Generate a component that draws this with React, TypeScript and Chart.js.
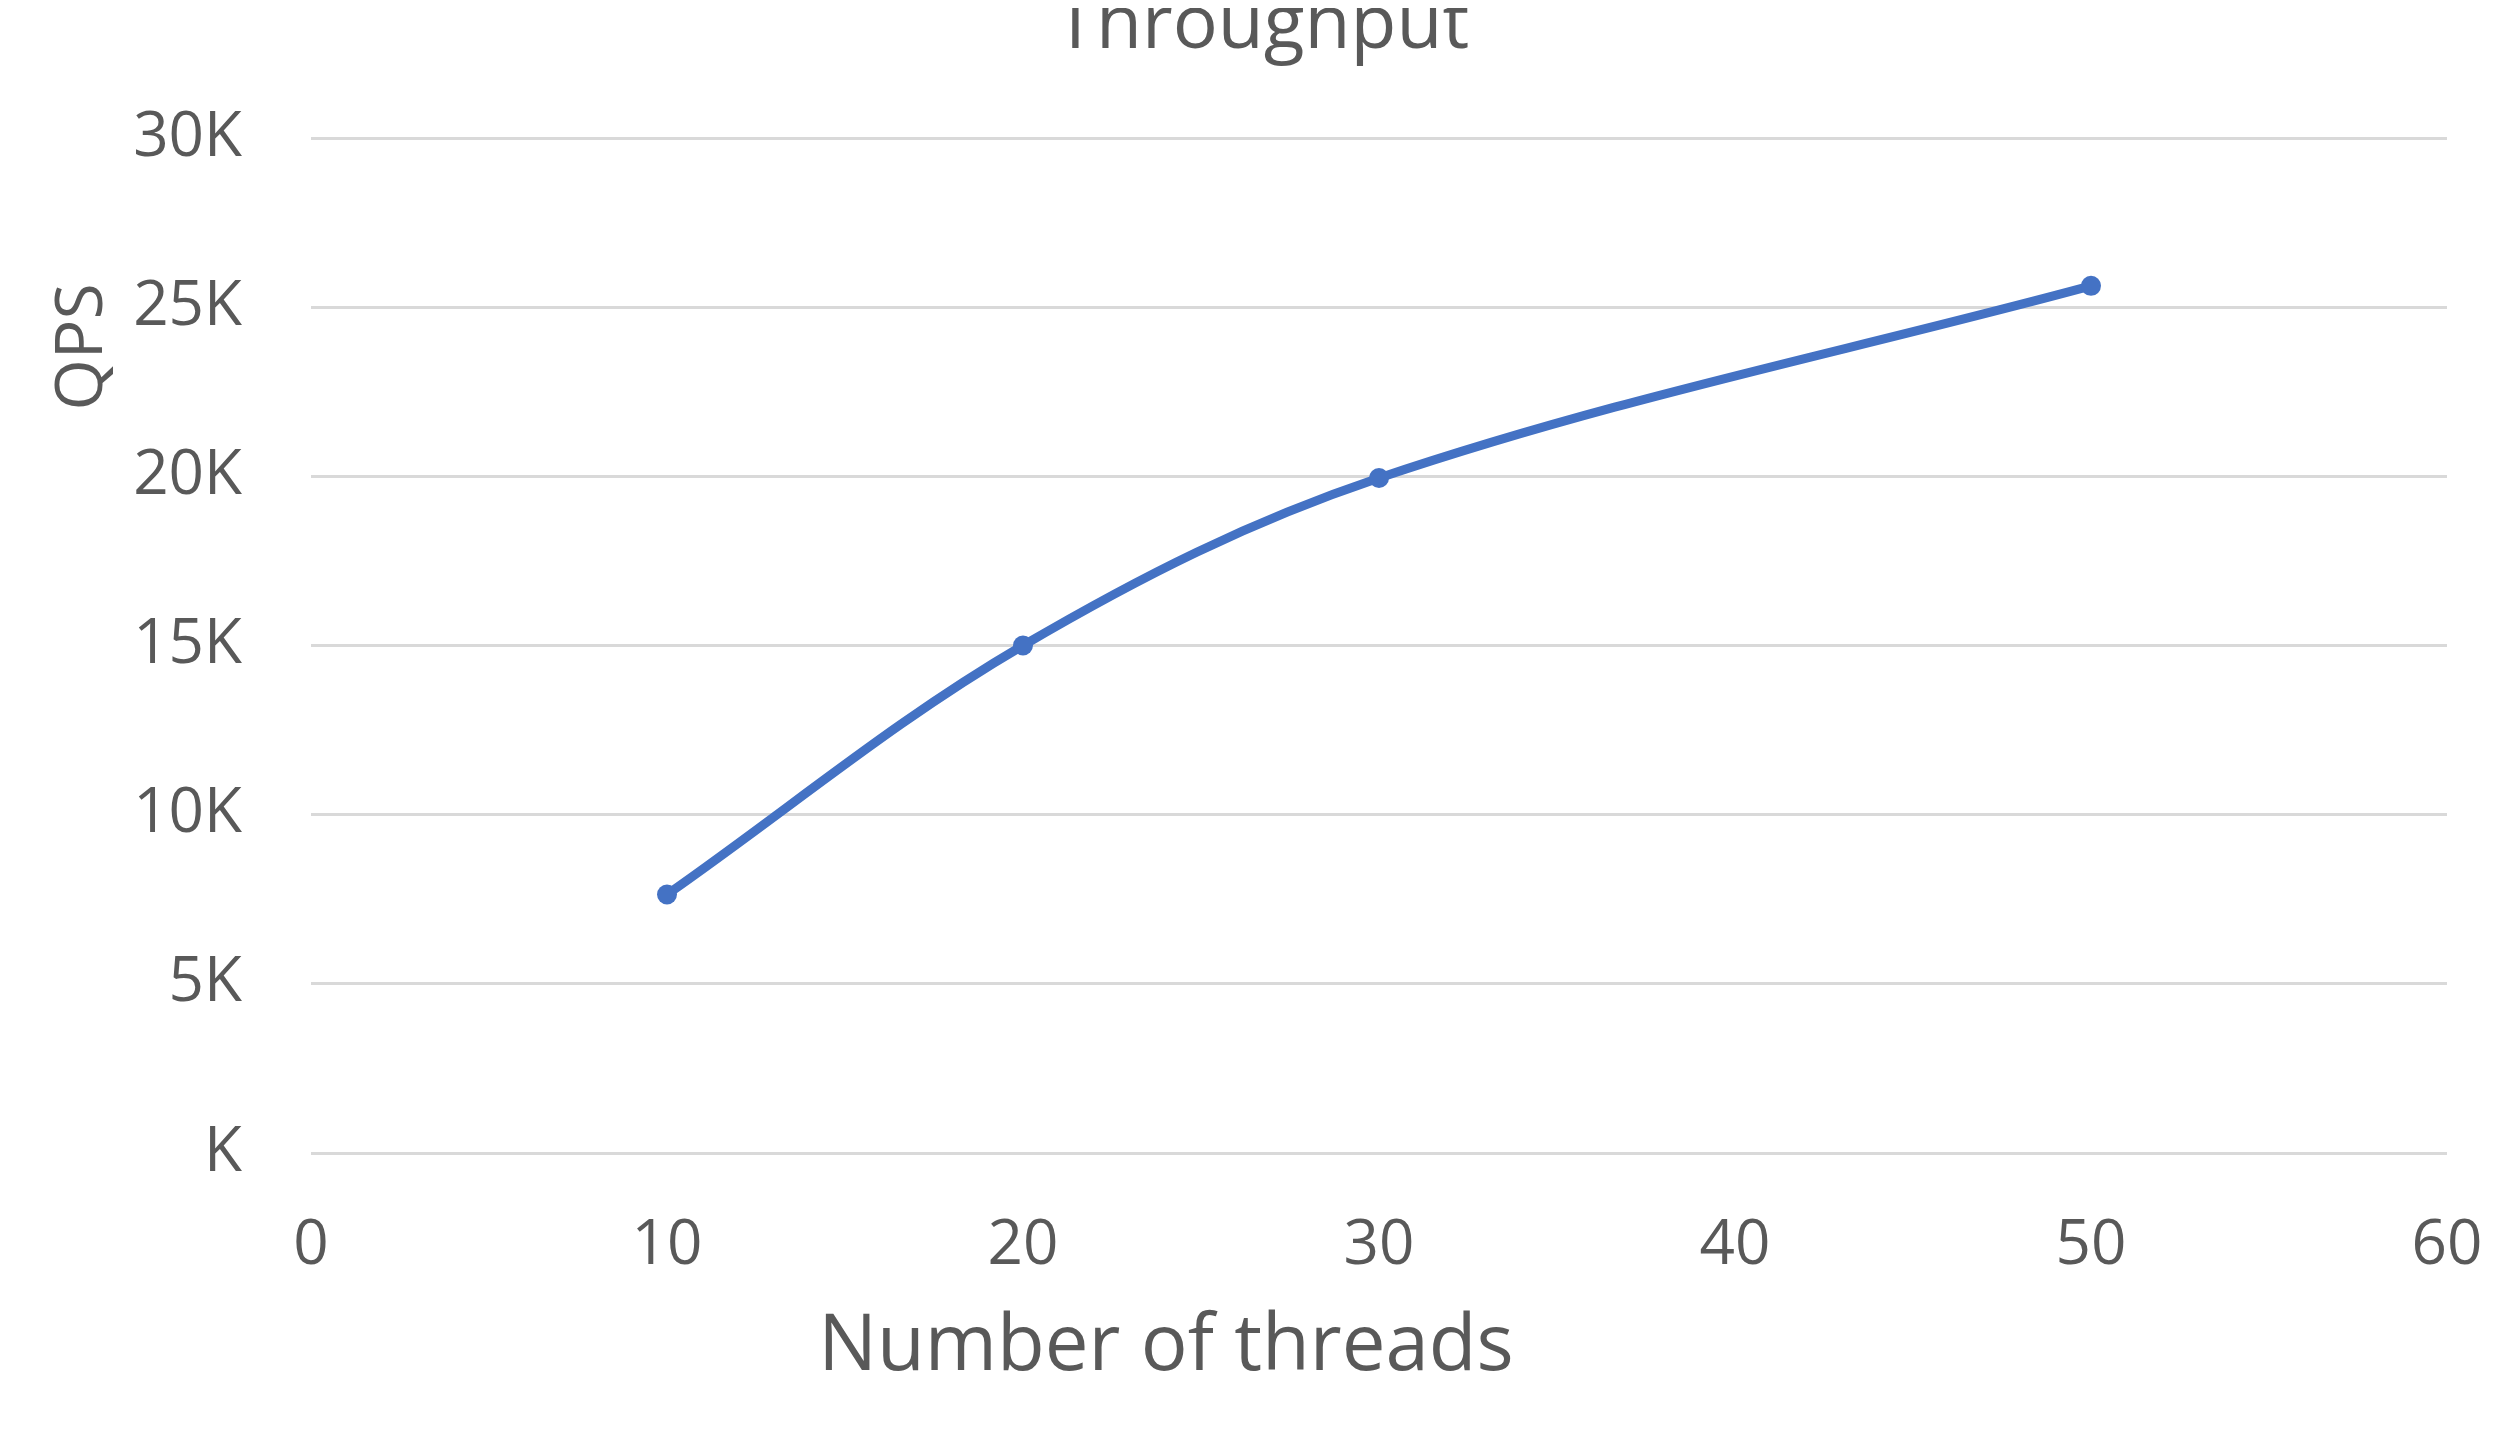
import React, { useEffect, useRef } from "react";
import { Chart, registerables } from "chart.js";

Chart.register(...registerables);

const threads = [10, 20, 30, 50];
const qps = [7640, 15000, 19950, 25630];
const yTickLabels = ["K", "5K", "10K", "15K", "20K", "25K", "30K"];
const chartTitle = "Throughput";
const xTitle = "Number of threads";
const yTitle = "QPS";

const FONT = "'Open Sans', 'DejaVu Sans', sans-serif";
const TEXT = "#595959";

const titlesPlugin = {
  id: "customTitles",
  afterDraw(chart: any) {
    const ctx = chart.ctx;
    ctx.save();
    ctx.fillStyle = TEXT;
    // Chart title
    ctx.font = `75px ${FONT}`;
    ctx.textAlign = "center";
    ctx.textBaseline = "alphabetic";
    ctx.fillText(chartTitle, 1254, 40);
    // X title
    ctx.font = `78px ${FONT}`;
    ctx.fillText(xTitle, 1158, 1362);
    // Y title
    ctx.font = `66px ${FONT}`;
    ctx.translate(75, 339);
    ctx.rotate(-Math.PI / 2);
    ctx.textBaseline = "middle";
    ctx.fillText(yTitle, 0, 0);
    ctx.restore();
  },
};

export default function App() {
  const ref = useRef<HTMLCanvasElement>(null);
  useEffect(() => {
    if (!ref.current) return;
    const chart = new Chart(ref.current, {
      type: "line",
      data: {
        datasets: [
          {
            data: threads.map((t, i) => ({ x: t, y: qps[i] })),
            borderColor: "#4472C4",
            backgroundColor: "#4472C4",
            borderWidth: 9,
            pointRadius: 10,
            pointHoverRadius: 10,
            pointBorderWidth: 0,
            tension: 0.35,
            fill: false,
          },
        ],
      },
      options: {
        animation: false,
        responsive: true,
        maintainAspectRatio: false,
        layout: { padding: { top: 130, right: 56, left: 0, bottom: 0 } },
        plugins: {
          legend: { display: false },
          title: { display: false },
          tooltip: { enabled: false },
        },
        scales: {
          x: {
            type: "linear",
            min: 0,
            max: 60,
            afterFit: (s: any) => {
              s.height = 275;
              s.paddingLeft = 0;
              s.paddingRight = 0;
            },
            ticks: {
              stepSize: 10,
              padding: 56,
              color: TEXT,
              font: { family: FONT, size: 62 },
              maxRotation: 0,
            },
            grid: { display: false, drawTicks: false },
            border: { display: false },
          },
          y: {
            min: 0,
            max: 30000,
            afterFit: (s: any) => {
              s.width = 303;
              s.paddingTop = 0;
              s.paddingBottom = 0;
            },
            ticks: {
              stepSize: 5000,
              padding: 69,
              color: TEXT,
              font: { family: FONT, size: 62 },
              callback: (_v: any, i: number) => yTickLabels[i],
            },
            grid: { color: "#d9d9d9", lineWidth: 3, drawTicks: false },
            border: { display: false },
          },
        },
      },
      plugins: [titlesPlugin],
    });
    return () => chart.destroy();
  }, []);
  return (
    <div style={{ width: 2495, height: 1420, position: "relative" }}>
      <canvas ref={ref} />
    </div>
  );
}
